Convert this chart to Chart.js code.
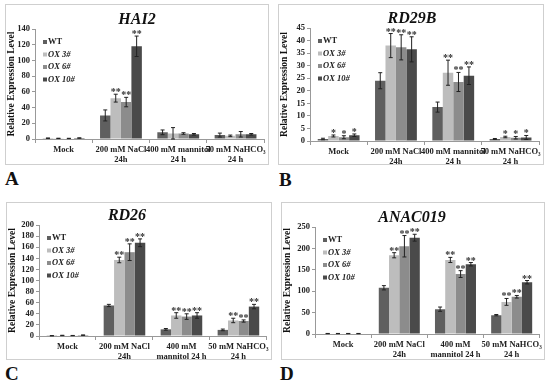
<!DOCTYPE html>
<html>
<head>
<meta charset="utf-8">
<script src="https://cdn.jsdelivr.net/npm/chart.js@4"></script>
<style>
  body { margin: 0; background: #fff; }
  #wrap { position: relative; width: 550px; height: 387px; overflow: hidden; }
  .panel { position: absolute; border: 1px solid #cfcfcf; box-sizing: border-box; }
  .panel canvas { display: block; }
  .letter { position: absolute; font: bold 19px "Liberation Serif", serif; line-height: 1; color: #111; }
</style>
</head>
<body>
<div id="wrap">
  <div class="panel" id="pA" style="left:5px;top:4px;width:264px;height:161px"><canvas id="chartA"></canvas></div>
  <div class="panel" id="pB" style="left:278px;top:4px;width:266px;height:161px"><canvas id="chartB"></canvas></div>
  <div class="panel" id="pC" style="left:6px;top:202px;width:266px;height:158px"><canvas id="chartC"></canvas></div>
  <div class="panel" id="pD" style="left:281px;top:202px;width:264px;height:158px"><canvas id="chartD"></canvas></div>
  <div class="letter" style="left:5px;top:169px">A</div>
  <div class="letter" style="left:279px;top:170px">B</div>
  <div class="letter" style="left:5px;top:364px">C</div>
  <div class="letter" style="left:280px;top:364px">D</div>
</div>
<script>
// treatments on the x axis
const categoriesAB = ['Mock', ['200 mM NaCl', '24h'], ['400 mM mannitol', '24 h'], ['50 mM NaHCO₃', '24 h']];
const categoriesCD = ['Mock', ['200 mM NaCl', '24h'], ['400 mM', 'mannitol 24 h'], ['50 mM NaHCO₃', '24 h']];
const lines = ['WT', 'OX 3#', 'OX 6#', 'OX 10#'];
const colors = ['#5f5f5f', '#bdbdbd', '#8c8c8c', '#4a4a4a'];

// HAI2 (rows = lines, cols = treatments)
const hai2Values = [[1.0, 30, 8.5, 5], [0.8, 52, 7, 4], [0.7, 47, 7, 6], [1.2, 118, 6, 6]];
const hai2Errors = [[0.3, 7, 3, 2.5], [0.2, 5, 7.5, 1], [0.2, 6, 1, 3.5], [0.3, 13, 1, 1]];
const hai2Stars = [['', '', '', ''], ['', '**', '', ''], ['', '**', '', ''], ['', '**', '', '']];

// RD29B
const rd29bValues = [[0.8, 24, 13.5, 0.8], [2.0, 38, 27.2, 1.6], [1.5, 37.3, 23.5, 1.3], [2.3, 36.5, 26, 1.4]];
const rd29bErrors = [[0.3, 3.2, 2, 0.2], [0.4, 4.8, 5, 0.3], [0.6, 5, 3.8, 0.5], [0.5, 5, 3.5, 0.8]];
const rd29bStars = [['', '', '', ''], ['*', '**', '**', '*'], ['*', '**', '**', '*'], ['*', '**', '**', '*']];

// RD26
const rd26Values = [[0.5, 55, 12, 11], [1.0, 137, 37, 28], [0.8, 151, 35, 27], [1.5, 168, 37, 53]];
const rd26Errors = [[0.2, 2, 1.5, 1.5], [0.3, 5, 5, 4], [0.2, 15, 5, 2], [0.4, 7, 5, 4]];
const rd26Stars = [['', '', '', ''], ['', '**', '**', '**'], ['', '**', '**', '**'], ['', '**', '**', '**']];

// ANAC019
const anacValues = [[1, 108, 58, 44], [1, 184, 173, 75], [1, 205, 140, 87], [1, 225, 163, 121]];
const anacErrors = [[0.3, 5, 5, 1.5], [0.3, 6, 6, 8], [0.3, 25, 8, 3], [0.3, 8, 4, 4]];
const anacStars = [['', '', '', ''], ['', '**', '**', '**'], ['', '**', '**', '**'], ['', '**', '**', '**']];

const serif = '"Liberation Serif", "Times New Roman", serif';

// error bars and asterisks
const errorBars = {
  id: 'errorBars',
  afterDatasetsDraw(chart) {
    const ctx = chart.ctx;
    const y = chart.scales.y;
    ctx.save();
    chart.data.datasets.forEach((ds, i) => {
      const meta = chart.getDatasetMeta(i);
      meta.data.forEach((bar, j) => {
        const v = ds.data[j], e = ds.errors[j];
        const top = y.getPixelForValue(v + e);
        const bot = y.getPixelForValue(Math.max(0, v - e));
        ctx.strokeStyle = '#222';
        ctx.lineWidth = 1;
        ctx.beginPath();
        ctx.moveTo(bar.x, top); ctx.lineTo(bar.x, bot);
        ctx.moveTo(bar.x - 2, top); ctx.lineTo(bar.x + 2, top);
        ctx.moveTo(bar.x - 2, bot); ctx.lineTo(bar.x + 2, bot);
        ctx.stroke();
        if (ds.stars[j]) {
          ctx.fillStyle = '#333';
          ctx.font = 'bold 10px ' + serif;
          ctx.textAlign = 'center';
          ctx.textBaseline = 'alphabetic';
          ctx.fillText(ds.stars[j], bar.x, top + 1);
        }
      });
    });
    ctx.restore();
  }
};

// legend inside the plot, and the gene title
const innerLegend = {
  id: 'innerLegend',
  afterDraw(chart, args, opts) {
    const ctx = chart.ctx;
    const a = chart.chartArea;
    ctx.save();
    ctx.textBaseline = 'middle';
    chart.data.datasets.forEach((ds, i) => {
      const x = a.left + 8, yy = a.top + 13 + i * 12.5;
      ctx.fillStyle = ds.backgroundColor;
      ctx.fillRect(x, yy - 2, 4, 4);
      ctx.fillStyle = '#222';
      ctx.font = (i === 0 ? 'bold ' : 'italic bold ') + '8.5px ' + serif;
      ctx.textAlign = 'left';
      ctx.fillText(ds.label, x + 5, yy);
    });
    ctx.fillStyle = '#111';
    ctx.font = 'italic bold 16px ' + serif;
    ctx.textAlign = 'center';
    ctx.fillText(opts.text, opts.x, opts.y);
    ctx.restore();
  }
};

function makeChart(id, labels, values, errors, stars, max, step, box) {
  const canvas = document.getElementById(id);
  canvas.width = box.w;
  canvas.height = box.h;
  const datasets = lines.map((name, i) => ({
    label: name,
    data: values[i],
    errors: errors[i],
    stars: stars[i],
    backgroundColor: colors[i],
    borderWidth: 0,
    barPercentage: 1,
    categoryPercentage: 0.73
  }));
  return new Chart(canvas, {
    type: 'bar',
    data: { labels: labels, datasets: datasets },
    options: {
      responsive: false,
      animation: false,
      layout: { padding: { top: box.top, right: box.w - box.right, left: 0, bottom: 0 } },
      plugins: {
        legend: { display: false },
        tooltip: { enabled: false },
        innerLegend: { text: box.title, x: box.tx, y: box.ty }
      },
      scales: {
        x: {
          afterFit(s) { s.height = box.h - box.bottom; },
          grid: { display: true, drawOnChartArea: false, offset: true, tickLength: 4, color: '#999' },
          border: { color: '#999' },
          ticks: {
            maxRotation: 0, autoSkip: false, padding: 2, color: '#222',
            font: { family: serif, size: 8.5, weight: 'bold', lineHeight: 1.15 }
          }
        },
        y: {
          min: 0, max: max,
          afterFit(s) { s.width = box.left; },
          grid: { display: true, drawOnChartArea: false, tickLength: 3, color: '#999' },
          border: { color: '#999' },
          ticks: {
            stepSize: step, autoSkip: false, padding: 2, color: '#222',
            font: { family: serif, size: 8.5, weight: 'bold' }
          },
          title: {
            display: true, text: 'Relative Expression Level', color: '#111',
            padding: { top: 0, bottom: 1 },
            font: { family: serif, size: 9.5, weight: 'bold' }
          }
        }
      }
    },
    plugins: [errorBars, innerLegend]
  });
}

makeChart('chartA', categoriesAB, hai2Values, hai2Errors, hai2Stars, 140, 20,
  { w: 262, h: 159, left: 29, right: 259, top: 24, bottom: 134, title: 'HAI2', tx: 131, ty: 15 });
makeChart('chartB', categoriesAB, rd29bValues, rd29bErrors, rd29bStars, 45, 5,
  { w: 264, h: 159, left: 31, right: 261, top: 23, bottom: 136, title: 'RD29B', tx: 133, ty: 14 });
makeChart('chartC', categoriesCD, rd26Values, rd26Errors, rd26Stars, 200, 20,
  { w: 264, h: 156, left: 32, right: 260, top: 22, bottom: 133, title: 'RD26', tx: 120, ty: 13 });
makeChart('chartD', categoriesCD, anacValues, anacErrors, anacStars, 250, 50,
  { w: 262, h: 156, left: 33, right: 260, top: 24, bottom: 131, title: 'ANAC019', tx: 130, ty: 15 });
</script>
</body>
</html>
